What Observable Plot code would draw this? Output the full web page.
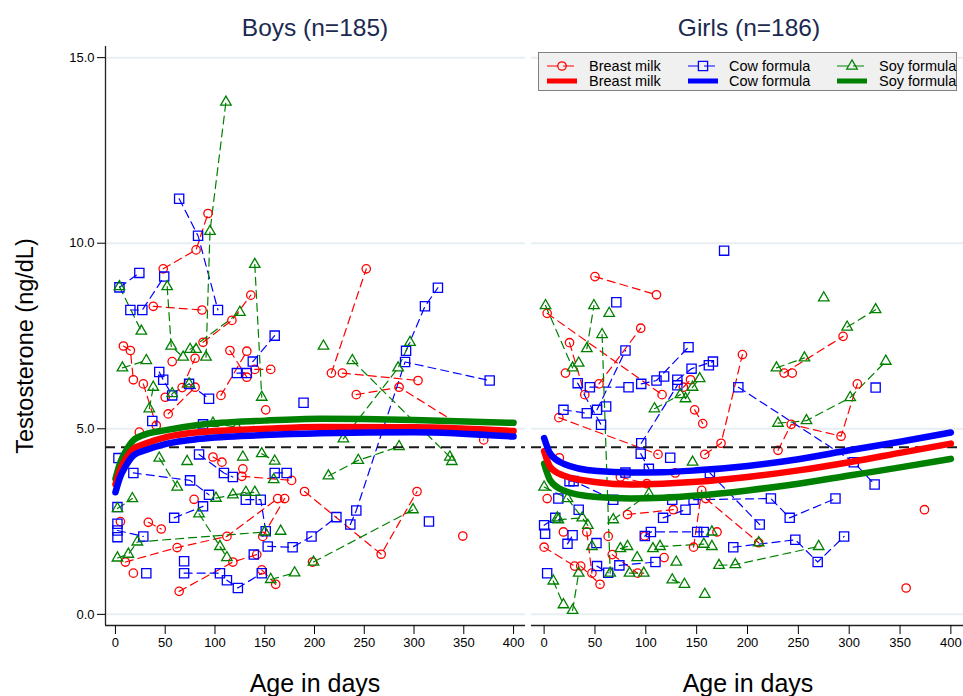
<!DOCTYPE html>
<html><head><meta charset="utf-8">
<script src="https://cdn.jsdelivr.net/npm/d3@7"></script>
<script src="https://cdn.jsdelivr.net/npm/@observablehq/plot@0.6"></script>
<style>
body{margin:0;background:#fff;font-family:Arial,"Liberation Sans",sans-serif}
#wrap{position:relative;width:963px;height:696px;overflow:hidden;background:#fff}
.t{position:absolute;white-space:nowrap;color:#000;line-height:1}
.p{position:absolute;top:0}
</style></head><body><div id="wrap"></div>
<script>
// ---------- data (day, testosterone ng/dL) per subject trajectory ----------
const groups = ["Breast milk","Cow formula","Soy formula"];
const colors = ["#ff0000","#0000ff","#008000"];
const symbols = ["circle","square","triangle"];
const yTicks = [0,5,10,15];
const xTicks = [0,50,100,150,200,250,300,350,400];

const boysBreast = [
 [[48,9.31],[81,9.82],[93,10.8]],[[38,8.3],[87,8.2]],[[88,7.33],[117,7.92],[136,8.6]],
 [[8,7.23],[15,7.11],[18,6.32]],[[67,6.11],[80,6.9]],[[57,6.81]],[[106,5.9],[132,7.09]],
 [[115,7.11],[132,6.39]],[[140,6.6],[156,6.6]],[[151,5.51]],[[28,6.21],[41,5.09]],[[24,4.91]],
 [[50,5.85]],[[53,5.4],[80,6.12]],[[98,4.24],[107,4.1]],[[127,3.72],[177,3.61]],[[128,3.92]],
 [[5,2.5]],[[10,1.41],[62,1.8],[112,2.1],[163,3.12]],[[33,2.48],[46,2.3]],[[18,1.11]],
 [[64,0.62],[118,1.41],[142,1.61]],[[79,3.1]],[[148,2.1],[170,3.12]],[[147,1.2],[161,0.81]],
 [[190,3.31],[267,1.62],[303,3.31]],[[198,1.41]],[[217,6.5],[252,9.31]],[[228,6.5],[304,6.3]],
 [[242,5.92],[285,6.12],[370,4.7]],[[349,2.11]]
];
const boysCow = [
 [[64,11.2],[83,10.2],[103,8.2]],[[15,8.2],[27,8.2],[49,9.1]],[[4,8.81],[24,9.2]],
 [[138,6.81],[160,7.51]],[[122,6.5],[132,6.5]],[[44,6.53],[48,6.32],[57,5.9]],[[74,6.21],[94,5.81]],
 [[37,5.21]],[[88,5.12]],[[189,5.7]],[[3,4.21]],[[18,3.81],[75,3.61],[94,3.22]],
 [[84,4.31],[109,3.81],[118,3.7]],[[160,3.81],[172,3.81]],[[131,3.09],[146,3.09],[151,2.24]],
 [[2,2.89]],[[2,2.44]],[[2,2.26],[28,2.1]],[[2,2.08]],[[59,2.6],[88,2.91]],[[31,1.11]],[[69,1.43]],
 [[69,1.11],[105,1.11]],[[112,0.92],[123,0.71],[147,1.11]],[[139,1.61]],
 [[153,1.83],[178,1.81],[197,2.1],[222,2.62]],[[236,2.42],[242,2.8],[291,6.8],[376,6.3]],
 [[292,7.1],[311,8.3],[324,8.8]],[[315,2.5]]
];
const boysSoy = [
 [[91,6.93],[95,10.32],[111,13.8]],[[4,8.83],[26,7.63]],[[52,8.83],[56,7.23],[68,6.93]],
 [[140,9.43],[147,5.85]],[[75,7.14],[125,8.14]],[[81,7.14]],[[7,6.64],[31,6.84]],[[34,5.54],[38,6.12]],
 [[57,5.95],[74,6.21]],[[98,5.15],[122,5.04]],[[44,4.21],[62,3.43]],[[72,4.12]],
 [[84,2.71],[105,1.83],[112,1.53]],[[128,4.24]],[[147,4.33],[160,4.13]],[[159,3.63]],
 [[118,3.22],[140,3.29]],[[101,3.13],[131,3.29]],[[2,2.85],[17,3.12]],
 [[2,1.52],[13,1.62],[22,1.95],[150,2.22]],[[166,2.24]],[[156,0.94],[180,1.12]],[[209,7.23]],
 [[238,6.84],[336,4.24]],[[229,4.73],[284,6.64],[296,7.33]],[[214,3.73],[244,4.15],[285,4.52]],
 [[199,1.41],[299,2.82]],[[338,4.12]]
];

const girlsBreast = [
 [[50,9.1],[110.5,8.61]],[[3,8.11],[116,5.92]],[[25,7.32],[40,5.92]],[[54,6.21],[95,7.71]],[[21,6.5]],
 [[14.5,5.3],[112,4.31]],[[137,6.12],[144,6.32]],[[148,5.51],[156,5.14]],[[158,4.31],[174,4.61],[195,7.0]],
 [[15,4.22]],[[75,3.7],[101,3.52]],[[129,3.81]],[[147,1.81],[155,3.34]],[[82,2.69],[127,2.82]],
 [[63,2.1]],[[3,3.12]],[[0,1.81],[30,1.3]],[[19,2.22]],[[42,2.22],[47,1.11]],[[36,1.3],[55,0.81]],
 [[67,1.61],[92,1.11]],[[99,2.11]],[[118,1.53]],[[159,3.12],[211,1.93]],[[170,2.22]],
 [[236,6.5],[294,7.49]],[[244,6.5]],[[230,4.42],[243,5.12],[292,4.8],[308,6.21]],[[374,2.82]],[[356,0.71]]
];
const girlsCow = [
 [[177,9.8]],[[71,8.41]],[[52,5.51],[80,7.11]],[[33,6.23],[56,5.11]],[[45,6.12],[83,6.12]],
 [[95.5,6.21],[110.5,6.3],[142,7.2]],[[118,6.41]],[[131,6.32],[145,6.62],[166,6.81]],[[162,6.71]],
 [[95.5,4.61],[131,6.17]],[[191,6.12],[304.5,4.1],[325,3.5]],[[326,6.11]],[[19,5.51],[42,5.42]],
 [[61,5.6]],[[95,4.33],[103,3.92]],[[124,4.22]],[[25,3.59],[29,3.59],[68,3.09]],[[80,3.82]],
 [[126,3.09]],[[147,3.09],[223,3.12],[241.5,2.6],[286.5,3.12]],[[163,3.81],[212,2.42]],
 [[186,1.81],[247,2.01],[269,1.41],[295,2.1]],[[0,2.4],[11,2.6]],[[1,2.17]],[[3,1.11]],[[14,3.12]],
 [[23,1.9],[28,2.13]],[[34,2.82]],[[51.5,1.92]],[[52,1.3],[63,1.12]],[[74,1.32],[109.5,1.41]],
 [[99,2.11],[105,2.22],[150.5,2.22],[157,2.22]],[[117,2.6],[139,2.82]]
];
const girlsSoy = [
 [[275,8.53]],[[298,7.74],[326,8.21]],[[228.5,6.64],[256,6.91]],[[230,5.15],[258,5.22],[301,5.84],[336,6.82]],
 [[1.4,8.32],[28,6.64]],[[34,6.77]],[[42,7.16],[49,8.32]],[[57,7.54],[65,1.11]],[[64,8.11]],
 [[108.5,5.54],[134,5.92]],[[139,5.81],[146,6.12],[153,6.35]],[[146,4.1]],[[0,3.43],[23,3.12],[43,2.4]],
 [[13,2.6]],[[14,2.55],[37.5,2.6]],[[47,1.83]],[[75,1.77],[82,1.83]],[[68,2.55],[103,3.25]],
 [[9,0.9],[19,0.26]],[[28,0.11],[34,1.11]],[[84,1.11],[98,1.11]],[[91.5,1.53]],[[107,1.77]],
 [[114,1.83],[157,1.89]],[[126,0.93],[138,0.81]],[[130,1.41]],[[158,0.54]],[[165,2.22]],[[165,1.83]],
 [[172,1.32],[188,1.34],[270,1.83]],[[211,1.93]]
];

// fitted mean curves
const boysFitDays = [0,5,10,18,30,52,85,150,206,300,400];
const boysBreastFit = [3.5,3.92,4.18,4.46,4.6,4.78,4.91,5.0,5.05,5.04,4.94];
const boysCowFit    = [3.29,3.72,3.98,4.28,4.42,4.6,4.73,4.83,4.88,4.91,4.79];
const boysSoyFit    = [3.65,4.1,4.38,4.69,4.85,4.97,5.11,5.22,5.27,5.24,5.16];
const girlsFitDays = [0,6,19,52,85,117,150,200,250,300,350,400];
const girlsBreastFit = [4.4,3.97,3.74,3.56,3.5,3.52,3.57,3.7,3.88,4.1,4.35,4.6];
const girlsCowFit    = [4.75,4.33,4.06,3.86,3.82,3.83,3.88,4.0,4.18,4.42,4.65,4.9];
const girlsSoyFit    = [4.06,3.61,3.34,3.16,3.12,3.14,3.2,3.34,3.52,3.74,3.96,4.19];

const refLine = 4.5;

// ---------- build tables ----------
function trajRows(sets){
  const out=[];
  sets.forEach((set,gi)=>set.forEach((traj,ti)=>traj.forEach(([day,value])=>out.push({group:groups[gi],id:gi+"-"+ti,day,value}))));
  return out;
}
function fitRows(days,fits){
  const out=[];
  fits.forEach((vals,gi)=>vals.forEach((v,i)=>out.push({group:groups[gi],day:days[i],value:v})));
  return out;
}
const yDomain=[-0.3,15.3];
const symR=[4.2,5.2,3.9];

function panel({rows,fits,width,marginLeft,marginRight,xDomain,showY}){
  const marks=[Plot.ruleY(yTicks,{stroke:"#e8eff3",strokeWidth:2})];
  groups.forEach((g,gi)=>marks.push(Plot.line(rows.filter(d=>d.group===g),{x:"day",y:"value",z:"id",stroke:colors[gi],strokeWidth:1.2,strokeDasharray:"8,5"})));
  groups.forEach((g,gi)=>marks.push(Plot.dot(rows.filter(d=>d.group===g),{x:"day",y:"value",symbol:symbols[gi],r:symR[gi],stroke:colors[gi],strokeWidth:1.3,fill:"none"})));
  marks.push(Plot.ruleY([refLine],{stroke:"#1a1a1a",strokeWidth:2,strokeDasharray:"10,6"}));
  [2,0,1].forEach(gi=>marks.push(Plot.line(fits.filter(d=>d.group===groups[gi]),{x:"day",y:"value",stroke:colors[gi],strokeWidth:6.5,curve:"monotone-x"})));
  marks.push(Plot.ruleY([yDomain[0]],{stroke:"#222",strokeWidth:1.3}));
  if(showY){
    marks.push(Plot.ruleX([xDomain[0]],{stroke:"#222",strokeWidth:1.3}));
    marks.push(Plot.axisY({ticks:yTicks,tickFormat:d3.format(".1f"),tickSize:8,tickPadding:3,label:null}));
  }
  marks.push(Plot.axisX({ticks:xTicks,tickSize:9,tickPadding:3,label:null}));
  return Plot.plot({width,height:696,marginLeft,marginRight,marginTop:46,marginBottom:71,
    x:{domain:xDomain},y:{domain:yDomain,axis:showY?undefined:null},
    style:{fontFamily:"Arial, 'Liberation Sans', sans-serif",fontSize:"13px",color:"#000",background:"transparent",overflow:"visible"},
    marks});
}

const wrap=document.getElementById("wrap");
const boys=panel({rows:trajRows([boysBreast,boysCow,boysSoy]),fits:fitRows(boysFitDays,[boysBreastFit,boysCowFit,boysSoyFit]),
  width:530,marginLeft:105,marginRight:5,xDomain:[-10,412],showY:true});
boys.classList.add("p"); boys.style.left="0px";
const girls=panel({rows:trajRows([girlsBreast,girlsCow,girlsSoy]),fits:fitRows(girlsFitDays,[girlsBreastFit,girlsCowFit,girlsSoyFit]),
  width:437,marginLeft:5,marginRight:0,xDomain:[-12.4,412.4],showY:false});
girls.classList.add("p"); girls.style.left="526px";
wrap.appendChild(boys); wrap.appendChild(girls);

function txt(s,css){const d=document.createElement("div");d.className="t";d.textContent=s;Object.assign(d.style,css);wrap.appendChild(d);return d;}
txt("Boys (n=185)",{left:"315px",top:"16px",fontSize:"24.5px",color:"#1a2a50",transform:"translateX(-50%)"});
txt("Girls (n=186)",{left:"749px",top:"16px",fontSize:"24.5px",color:"#1a2a50",transform:"translateX(-50%)"});
txt("Age in days",{left:"315px",top:"671px",fontSize:"25px",transform:"translateX(-50%)"});
txt("Age in days",{left:"748px",top:"671px",fontSize:"25px",transform:"translateX(-50%)"});
txt("Testosterone (ng/dL)",{left:"26px",top:"346px",fontSize:"23.5px",transform:"translate(-50%,-50%) rotate(-90deg)"});

// legend
const leg=document.createElement("div");
Object.assign(leg.style,{position:"absolute",left:"538px",top:"52px",width:"419px",height:"39px",background:"#f0f0f0",border:"1px solid #808080",boxSizing:"border-box"});
wrap.appendChild(leg);
const ls=d3.select(leg).append("svg").attr("width",419).attr("height",39).style("position","absolute").style("left","0").style("top","0");
const colX=[8,149,298], textX=[50,190,340];
groups.forEach((g,gi)=>{
  const x0=colX[gi];
  ls.append("line").attr("x1",x0).attr("x2",x0+30).attr("y1",13).attr("y2",13).attr("stroke",colors[gi]).attr("stroke-width",1.2).attr("stroke-dasharray","11,5");
  const sym=d3.symbol().type(gi===0?d3.symbolCircle:gi===1?d3.symbolSquare:d3.symbolTriangle).size(Math.PI*symR[gi]*symR[gi]);
  ls.append("path").attr("d",sym()).attr("transform",`translate(${x0+15},13)`).attr("fill","none").attr("stroke",colors[gi]).attr("stroke-width",1.3);
  ls.append("line").attr("x1",x0).attr("x2",x0+30).attr("y1",28).attr("y2",28).attr("stroke",colors[gi]).attr("stroke-width",5);
  ls.append("text").attr("x",textX[gi]).attr("y",18).text(g).style("font-size","14.5px").style("font-family","Arial, 'Liberation Sans', sans-serif");
  ls.append("text").attr("x",textX[gi]).attr("y",33).text(g).style("font-size","14.5px").style("font-family","Arial, 'Liberation Sans', sans-serif");
});
</script></body></html>
